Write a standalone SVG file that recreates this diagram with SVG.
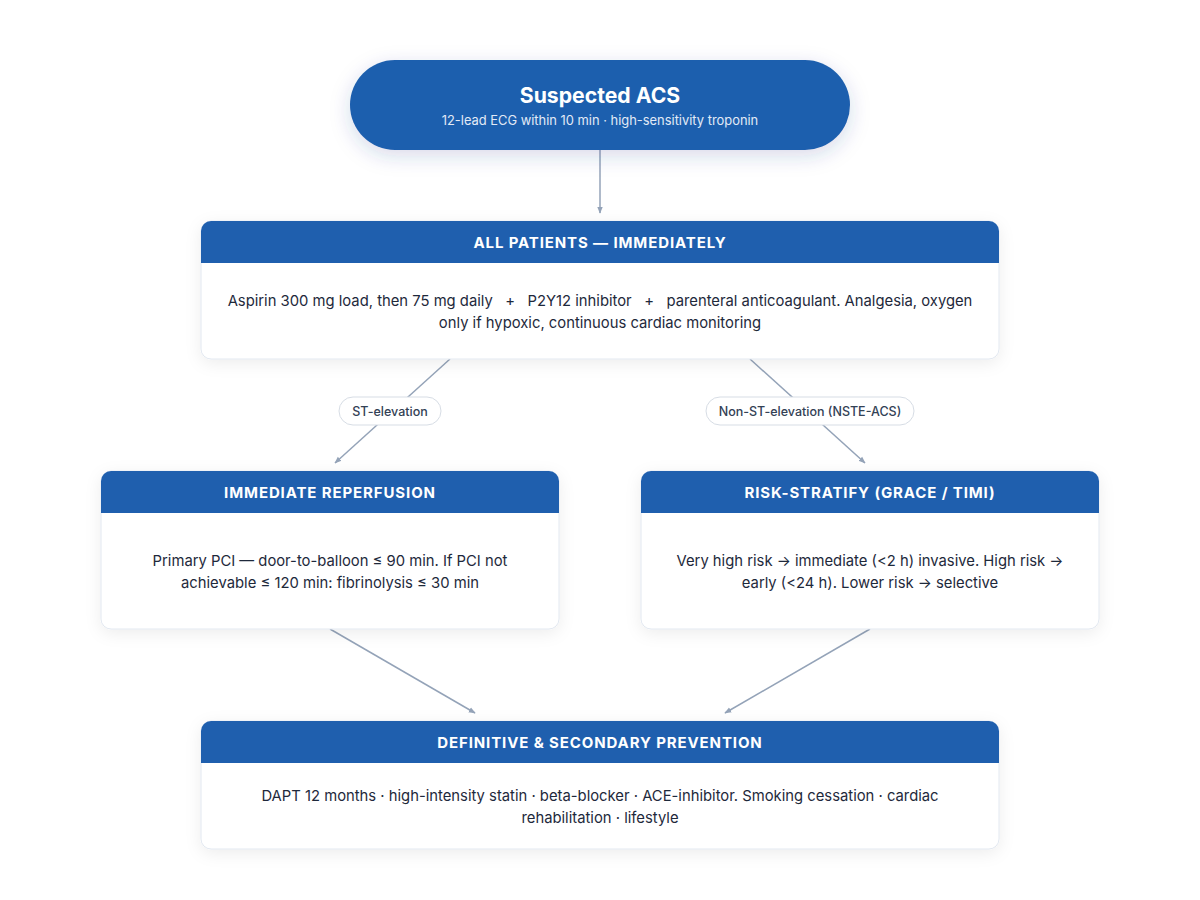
<svg xmlns="http://www.w3.org/2000/svg" width="1200" height="900" viewBox="0 0 1200 900">
<defs>
<filter id="sh" x="-10%" y="-20%" width="120%" height="150%">
<feDropShadow dx="0" dy="4" stdDeviation="8" flood-color="#0f172a" flood-opacity="0.07"/>
</filter>
<filter id="shp" x="-10%" y="-30%" width="120%" height="170%">
<feDropShadow dx="0" dy="6" stdDeviation="10" flood-color="#1e3a8a" flood-opacity="0.18"/>
</filter>
<marker id="arr" viewBox="0 0 10 10" refX="9" refY="5" markerWidth="7" markerHeight="7" orient="auto-start-reverse" markerUnits="userSpaceOnUse">
<path d="M0,1 L10,5 L0,9 Z" fill="#94a3b8"/>
</marker>
<clipPath id="c1"><rect x="201" y="221" width="798" height="138" rx="10"/></clipPath>
<clipPath id="c2"><rect x="101" y="471" width="458" height="158" rx="10"/></clipPath>
<clipPath id="c3"><rect x="641" y="471" width="458" height="158" rx="10"/></clipPath>
<clipPath id="c4"><rect x="201" y="721" width="798" height="128" rx="10"/></clipPath>
</defs>
<style>
.card{fill:#ffffff;stroke:#e2e8f0;stroke-width:1}
.hdr{fill:#1f5fae}
.ht{font-family:Inter,"Liberation Sans",sans-serif;font-weight:700;font-size:15px;fill:#ffffff;text-anchor:middle;letter-spacing:0.88px}
.bt{font-family:Inter,"Liberation Sans",sans-serif;font-size:14.8px;fill:#1e293b;text-anchor:middle}
.conn{stroke:#94a3b8;stroke-width:1.5;fill:none}
.lbl{fill:#ffffff;stroke:#d7dde5;stroke-width:1}
.lt{font-family:Inter,"Liberation Sans",sans-serif;font-size:12.5px;font-weight:500;fill:#334155;text-anchor:middle}
</style>
<rect x="0" y="0" width="1200" height="900" fill="#ffffff"/>

<g id="connectors">
<line class="conn" x1="600" y1="150" x2="600" y2="213" marker-end="url(#arr)"/>
<line class="conn" x1="450" y1="359" x2="335" y2="463" marker-end="url(#arr)"/>
<line class="conn" x1="750" y1="359" x2="865" y2="463" marker-end="url(#arr)"/>
<line class="conn" x1="330" y1="629" x2="475" y2="713" marker-end="url(#arr)"/>
<line class="conn" x1="870" y1="629" x2="725" y2="713" marker-end="url(#arr)"/>
<g id="label-st">
<rect class="lbl" x="339" y="397" width="102" height="28" rx="14"/>
<text class="lt" x="390" y="415.5">ST-elevation</text>
</g>
<g id="label-nste">
<rect class="lbl" x="706" y="397" width="208" height="28" rx="14"/>
<text class="lt" x="810" y="415.5">Non-ST-elevation (NSTE-ACS)</text>
</g>
</g>

<g id="node-start">
<rect x="350" y="60" width="500" height="90" rx="45" fill="#1f5fae" filter="url(#shp)"/>
<text x="600" y="103" font-family="Inter,'Liberation Sans',sans-serif" font-weight="700" font-size="21.2" fill="#ffffff" text-anchor="middle">Suspected ACS</text>
<text x="600" y="125" font-family="Inter,'Liberation Sans',sans-serif" font-size="12.9" fill="#e2eaf6" text-anchor="middle">12-lead ECG within 10 min · high-sensitivity troponin</text>
</g>

<g id="node-all">
<rect class="card" x="201" y="221" width="798" height="138" rx="10" filter="url(#sh)"/>
<rect class="hdr" x="201" y="221" width="798" height="42" clip-path="url(#c1)"/>
<text class="ht" x="600" y="247.5">ALL PATIENTS — IMMEDIATELY</text>
<text class="bt" x="600" y="306" xml:space="preserve">Aspirin 300 mg load, then 75 mg daily   +   P2Y12 inhibitor   +   parenteral anticoagulant. Analgesia, oxygen</text>
<text class="bt" x="600" y="328">only if hypoxic, continuous cardiac monitoring</text>
</g>

<g id="node-reperfusion">
<rect class="card" x="101" y="471" width="458" height="158" rx="10" filter="url(#sh)"/>
<rect class="hdr" x="101" y="471" width="458" height="42" clip-path="url(#c2)"/>
<text class="ht" x="330" y="497.5">IMMEDIATE REPERFUSION</text>
<text class="bt" x="330" y="566">Primary PCI — door-to-balloon ≤ 90 min. If PCI not</text>
<text class="bt" x="330" y="588">achievable ≤ 120 min: fibrinolysis ≤ 30 min</text>
</g>

<g id="node-risk">
<rect class="card" x="641" y="471" width="458" height="158" rx="10" filter="url(#sh)"/>
<rect class="hdr" x="641" y="471" width="458" height="42" clip-path="url(#c3)"/>
<text class="ht" x="870" y="497.5">RISK-STRATIFY (GRACE / TIMI)</text>
<text class="bt" x="870" y="566">Very high risk → immediate (&lt;2 h) invasive. High risk →</text>
<text class="bt" x="870" y="588">early (&lt;24 h). Lower risk → selective</text>
</g>

<g id="node-prevention">
<rect class="card" x="201" y="721" width="798" height="128" rx="10" filter="url(#sh)"/>
<rect class="hdr" x="201" y="721" width="798" height="42" clip-path="url(#c4)"/>
<text class="ht" x="600" y="747.5">DEFINITIVE &amp; SECONDARY PREVENTION</text>
<text class="bt" x="600" y="801">DAPT 12 months · high-intensity statin · beta-blocker · ACE-inhibitor. Smoking cessation · cardiac</text>
<text class="bt" x="600" y="823">rehabilitation · lifestyle</text>
</g>
</svg>
